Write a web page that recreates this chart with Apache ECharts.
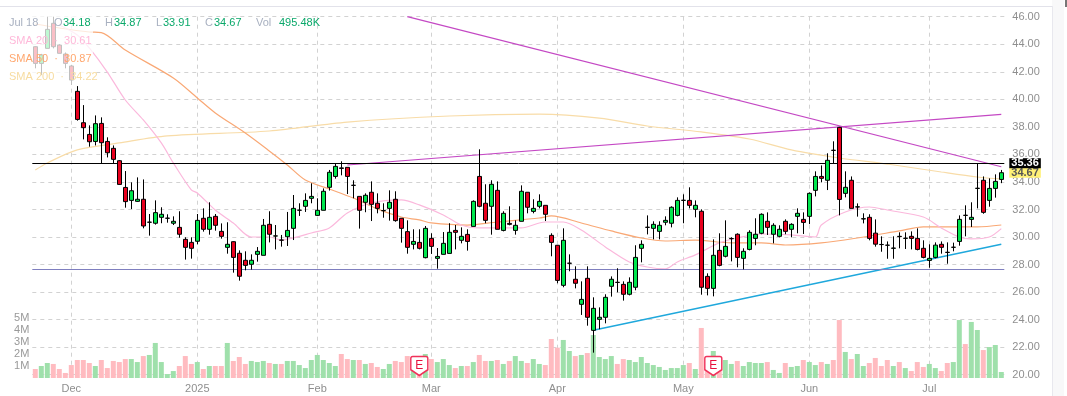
<!DOCTYPE html>
<html>
<head>
<meta charset="utf-8">
<style>
html, body { margin: 0; padding: 0; background: #fff; }
#chart { width: 1067px; height: 396px; }
</style>
<script src="https://cdn.jsdelivr.net/npm/echarts@6/dist/echarts.min.js"></script>
</head>
<body>
<div id="chart"></div>
<script>
const opens = [
  43.82,42.61,43.70,45.52,43.94,43.29,42.42,40.58,38.30,37.45,
  36.94,38.25,36.94,36.44,35.54,33.60,32.66,32.59,32.74,31.07,
  31.00,31.43,31.36,31.00,30.70,29.83,29.61,29.69,31.36,30.56,
  31.50,30.41,29.25,29.66,28.82,28.31,28.02,28.74,28.67,30.92,
  30.07,29.78,30.02,30.63,31.94,32.23,32.81,31.57,31.94,33.61,
  34.40,35.02,35.06,33.75,32.95,32.52,33.25,32.45,31.91,32.08,
  32.74,31.36,30.39,29.47,29.61,28.50,29.90,28.45,28.74,28.81,
  30.48,29.76,30.19,30.77,34.40,32.45,32.23,33.39,30.48,30.99,
  30.48,31.14,33.25,31.86,32.23,32.30,30.12,29.40,26.49,28.09,
  26.93,25.11,27.00,23.22,24.02,24.17,26.42,26.71,26.56,25.84,
  26.35,29.18,30.70,30.63,30.41,31.07,31.00,31.57,32.66,32.66,
  32.01,31.87,27.14,26.27,29.03,28.60,29.88,30.20,28.45,29.10,
  29.90,30.27,31.14,30.20,30.05,31.14,30.56,31.50,31.28,31.50,
  33.39,34.40,34.12,36.30,37.96,33.17,34.12,32.18,31.31,31.43,
  30.28,29.46,29.41,29.18,30.05,29.90,30.05,29.90,29.18,28.30,
  28.52,29.47,28.89,29.25,29.68,31.58,31.28,33.53,34.12,32.66,
  33.53,34.18
];
const closes = [
  42.61,43.22,45.08,43.82,43.34,42.61,41.40,38.54,37.94,36.92,
  38.23,36.85,36.12,35.64,33.82,32.57,33.36,32.74,30.80,31.08,
  31.77,31.65,31.37,31.14,30.20,29.25,29.18,31.21,30.56,31.43,
  30.85,30.05,29.47,28.52,27.15,27.94,28.31,28.96,30.85,30.20,
  30.08,29.77,30.48,32.08,31.95,32.66,32.95,31.94,33.32,34.70,
  35.13,34.98,34.40,33.76,31.94,33.03,32.37,32.08,31.92,32.52,
  31.19,30.63,29.25,29.68,29.18,30.63,29.32,28.59,29.54,30.34,
  30.34,30.05,29.68,32.59,32.23,31.21,33.83,30.56,31.72,30.92,
  30.85,33.32,32.16,32.08,32.59,31.65,29.61,26.85,29.76,28.10,
  26.64,25.47,24.17,24.82,24.17,25.62,26.93,26.70,25.84,26.71,
  28.52,29.47,30.71,30.92,30.85,31.21,32.16,32.66,32.67,32.30,
  32.30,26.35,26.27,28.67,27.94,29.32,29.89,28.52,28.96,30.34,
  30.20,31.65,30.70,30.85,30.56,30.41,30.92,31.72,31.06,33.17,
  34.40,34.26,35.57,36.29,32.73,33.61,32.08,32.19,31.33,29.90,
  29.48,29.45,29.40,29.20,30.03,29.91,29.90,29.10,28.52,28.45,
  29.41,29.25,28.88,29.26,31.28,31.57,31.43,33.54,31.79,33.53,
  34.04,34.67
];
const highs = [
  43.85,43.30,46.00,46.00,44.00,43.40,42.50,40.96,39.58,38.11,
  38.83,38.69,37.24,36.65,35.59,34.79,33.97,34.33,34.18,31.67,
  32.66,32.16,31.65,31.50,31.87,29.98,29.98,31.67,32.08,32.52,
  31.67,30.99,31.07,29.69,29.03,28.96,28.74,29.27,31.31,31.87,
  30.87,30.15,31.82,33.05,32.45,33.17,33.90,32.81,33.53,34.87,
  35.35,35.50,35.06,34.12,32.95,33.17,34.04,33.17,32.45,33.39,
  33.32,31.36,31.21,30.56,30.56,30.80,30.27,29.20,30.36,31.00,
  30.87,30.70,30.56,32.66,36.37,33.83,34.12,34.04,31.87,32.23,
  31.21,33.75,33.25,32.74,33.10,32.30,30.27,29.40,30.63,28.74,
  27.87,26.78,27.87,25.62,24.89,25.84,27.14,27.73,26.78,27.07,
  29.40,29.76,31.57,31.14,31.14,31.50,32.23,32.88,33.10,33.61,
  32.66,32.01,27.36,29.83,30.27,31.21,29.98,30.27,29.18,30.49,
  31.36,31.72,31.79,31.00,30.85,31.28,31.00,32.08,31.79,33.24,
  34.77,35.20,36.08,36.95,38.00,34.77,34.40,32.44,31.72,31.65,
  31.28,30.05,29.68,30.05,30.34,30.34,30.41,30.63,29.76,29.47,
  29.61,29.68,29.61,29.59,31.57,32.30,32.52,35.35,34.40,34.26,
  34.55,34.87
];
const lows = [
  42.25,41.76,43.70,43.70,43.34,42.25,41.04,38.45,37.09,36.56,
  36.65,35.35,35.78,35.35,33.80,32.13,32.03,32.55,30.63,30.10,
  30.90,31.00,31.04,30.87,29.95,28.36,28.43,29.47,30.39,30.17,
  30.46,29.88,28.79,27.41,26.83,27.58,27.63,28.21,28.67,29.61,
  29.10,29.30,29.35,29.78,31.53,31.82,32.45,31.53,31.94,33.37,
  34.24,34.48,33.12,32.81,30.61,31.80,31.16,31.72,31.40,31.19,
  31.11,29.59,28.79,29.10,29.10,28.45,28.77,27.70,28.74,28.81,
  29.10,29.54,29.01,30.77,32.16,31.00,30.17,30.56,30.41,30.85,
  30.17,31.14,31.72,31.72,32.08,31.16,28.60,26.64,26.35,27.51,
  26.27,24.34,23.56,21.60,23.30,23.73,25.67,25.98,25.38,25.76,
  26.13,28.16,30.19,29.83,29.83,30.85,30.70,31.50,31.00,32.08,
  31.43,25.81,25.76,25.69,27.87,28.52,28.23,27.80,27.65,29.03,
  29.40,30.20,30.15,29.54,29.98,30.20,29.98,30.27,30.22,30.94,
  32.95,33.97,33.41,35.35,31.57,32.88,32.08,31.48,30.99,29.76,
  29.30,28.93,28.42,28.42,29.18,29.13,29.10,29.03,28.45,27.77,
  28.45,28.79,28.06,28.96,29.37,30.05,30.73,32.08,31.69,32.20,
  32.86,33.91
];
// volumes in millions
const volumes = [
  0.75,1.00,1.25,1.17,0.75,0.42,1.08,1.50,1.50,1.25,
  1.00,1.50,0.83,1.42,1.33,1.58,1.58,1.33,1.83,1.92,
  2.92,1.33,0.33,0.58,1.00,1.83,1.17,1.33,0.75,1.00,
  1.00,1.00,2.92,1.42,1.75,1.17,1.42,1.33,1.42,1.25,
  1.17,1.17,1.42,1.42,1.08,0.83,1.50,1.92,1.50,1.25,
  1.00,2.00,1.58,1.50,1.50,1.17,1.25,0.92,0.75,1.17,
  1.42,1.33,1.83,1.30,1.50,2.00,1.58,1.33,1.58,1.08,
  0.83,1.00,1.00,1.33,1.92,1.42,1.42,1.50,1.17,1.42,
  1.83,1.42,1.25,1.58,1.17,1.08,3.25,2.53,3.17,2.25,
  1.83,1.92,2.08,3.58,1.75,1.58,1.83,1.17,1.58,1.50,
  1.33,1.75,1.25,1.08,0.92,0.67,0.83,0.83,1.08,1.25,
  0.75,4.17,1.20,2.25,1.30,1.50,1.17,1.42,1.00,1.33,
  1.25,1.25,1.33,0.67,0.42,1.25,0.92,1.00,1.50,1.33,
  1.08,1.33,1.17,1.50,4.83,2.17,1.58,2.00,1.00,1.25,
  1.67,1.00,1.50,1.00,1.33,0.83,0.58,1.33,0.92,1.17,
  0.83,0.58,1.25,1.33,4.83,2.83,4.67,4.00,2.33,2.58,
  2.75,0.50
];

const monthIndex = [6, 27, 47, 66, 87, 108, 129, 149];
const monthLabels = ['Dec', '2025', 'Feb', 'Mar', 'Apr', 'May', 'Jun', 'Jul'];
const categories = opens.map((_, i) => String(i));

// moving averages, read at [bar index, price]
const sma20 = [[4,45.40],[7,44.67],[9,43.73],[12,41.98],[15,39.95],[18,38.50],[21,36.83],[23,35.38],[26,33.42],[27,33.20],
  [30,31.96],[33,31.02],[36,30.00],[39,30.00],[41,29.78],[43,29.93],[46,30.29],[49,30.66],[52,31.75],[56,32.47],
  [61,32.69],[64,32.33],[68,31.60],[71,30.87],[74,30.66],[78,30.66],[81,30.66],[84,31.02],[85,31.09],[88,31.09],
  [91,30.51],[95,29.28],[99,28.19],[102,27.82],[105,27.68],[107,28.19],[110,28.70],[114,29.57],[117,29.93],[121,30.22],
  [126,30.15],[130,30.00],[131,30.87],[135,31.82],[139,32.18],[142,31.96],[148,31.45],[151,30.66],[154,30.00],[156,29.86],
  [159,30.00],[161,30.61]];
const sma50 = [[0,45.47],[4,45.18],[9,44.89],[11,44.85],[15,43.58],[23,41.55],[27,40.10],[30,39.01],[35,37.55],[39,36.25],
  [42,35.23],[45,34.14],[49,33.49],[53,32.83],[57,32.04],[61,31.45],[64,31.24],[66,31.02],[72,30.87],[77,31.09],
  [84,31.38],[86,31.53],[91,31.02],[96,30.44],[101,29.93],[105,29.71],[110,29.78],[116,29.57],[121,29.57],[125,29.42],
  [131,29.57],[137,29.93],[144,30.44],[148,30.73],[153,30.73],[157,30.73],[161,30.87]];
const sma200 = [[0,34.87],[2,35.38],[7,36.33],[14,36.83],[22,37.34],[39,37.70],[52,38.35],[69,38.79],[84,38.93],[94,38.64],
  [102,38.06],[111,37.63],[119,37.12],[126,36.33],[134,35.74],[142,35.30],[151,34.72],[157,34.36],[161,34.22]];

// drawn trend lines
const trendDown = [[62,46.00],[161,35.10]];
const trendUp = [[52,35.23],[161,38.91]];
const trendSupport = [[93,23.23],[161,29.47]];

const resistance = 35.36;
const support = 27.66;
const lastClose = 34.67;

const earnings = [[64,1.0],[113,1.0]];

const GREEN = '#00e64d';
const RED = '#e8001e';
const FONT = '"Liberation Sans", Arial, sans-serif';
const GRID_LINE = { color: '#d2d2d2', type: [4, 4] };

const candleData = opens.map((o, i) => [o, closes[i], lows[i], highs[i]]);
const volumeData = volumes.map((v, i) => ({
  value: v,
  itemStyle: { color: closes[i] >= opens[i] ? '#9fe0ab' : '#ffbbc0' }
}));

function lineSeries(name, data, color, width, smooth) {
  return {
    name: name,
    type: 'line',
    data: data,
    xAxisIndex: 0,
    yAxisIndex: 0,
    symbol: 'none',
    silent: true,
    smooth: smooth,
    z: 4,
    lineStyle: { color: color, width: width }
  };
}

function headerText(x, y, text, color) {
  return {
    type: 'text',
    x: x,
    y: y,
    z: 101,
    silent: true,
    style: { text: text, fill: color, font: '11px ' + FONT, textVerticalAlign: 'middle' }
  };
}

function priceBadge(value, background, color) {
  return {
    position: 'end',
    distance: 5,
    formatter: value.toFixed(2),
    backgroundColor: background,
    color: color,
    fontWeight: 'bold',
    fontFamily: FONT,
    fontSize: 11,
    lineHeight: 10,
    padding: [0, 2]
  };
}

const chart = echarts.init(document.getElementById('chart'));

const option = {
  animation: false,
  backgroundColor: '#fff',
  grid: [
    { left: 32.3, width: 972, top: 16.7, height: 358 },
    { left: 32.3, width: 972, top: 318, height: 60 }
  ],
  xAxis: [
    {
      type: 'category',
      gridIndex: 0,
      data: categories,
      axisLine: { show: false },
      axisTick: { show: false },
      axisLabel: { show: false },
      splitLine: {
        show: true,
        alignWithLabel: true,
        interval: (i) => monthIndex.includes(i),
        lineStyle: GRID_LINE
      }
    },
    {
      type: 'category',
      gridIndex: 1,
      data: categories,
      axisLine: { show: false },
      axisTick: { show: false },
      splitLine: { show: false },
      axisLabel: {
        show: true,
        margin: 5,
        interval: (i) => monthIndex.includes(i),
        formatter: (v, i) => monthLabels[monthIndex.indexOf(i)] || '',
        color: '#8f8f8f',
        fontFamily: FONT,
        fontSize: 11
      }
    }
  ],
  yAxis: [
    {
      type: 'value',
      gridIndex: 0,
      position: 'right',
      min: 20,
      max: 46,
      interval: 2,
      axisLine: { show: false },
      axisTick: { show: false },
      axisLabel: {
        margin: 8,
        formatter: (v) => v.toFixed(2),
        color: '#8f8f8f',
        fontFamily: FONT,
        fontSize: 11
      },
      splitLine: { lineStyle: GRID_LINE }
    },
    {
      type: 'value',
      gridIndex: 1,
      position: 'left',
      min: 0,
      max: 5,
      interval: 1,
      axisLine: { show: false },
      axisTick: { show: false },
      splitLine: { show: false },
      axisLabel: {
        margin: 3,
        padding: [0, 0, 4, 0],
        formatter: (v) => (v === 0 ? '' : v + 'M'),
        color: '#999',
        fontFamily: FONT,
        fontSize: 11
      }
    }
  ],
  series: [
    {
      name: 'Volume',
      type: 'bar',
      xAxisIndex: 1,
      yAxisIndex: 1,
      barWidth: 5,
      z: 1,
      data: volumeData
    },
    lineSeries('SMA 200', sma200, '#f8dca8', 1.2, 0.3),
    lineSeries('SMA 50', sma50, '#f9a875', 1.2, 0.3),
    lineSeries('SMA 20', sma20, '#fbb8dc', 1.2, 0.3),
    {
      name: 'Price',
      type: 'candlestick',
      xAxisIndex: 0,
      yAxisIndex: 0,
      barWidth: 4,
      z: 5,
      data: candleData,
      itemStyle: {
        color: GREEN,
        color0: RED,
        borderColor: '#000',
        borderColor0: '#000',
        borderWidth: 1
      },
      markLine: {
        silent: true,
        symbol: 'none',
        animation: false,
        data: [
          {
            yAxis: support,
            lineStyle: { color: '#7f7fbf', type: 'solid', width: 1 },
            label: { show: false }
          },
          {
            yAxis: lastClose,
            lineStyle: { color: 'transparent', type: 'solid', width: 1 },
            label: priceBadge(lastClose, '#fff176', '#555')
          },
          {
            yAxis: resistance,
            lineStyle: { color: '#000', type: 'solid', width: 1 },
            label: priceBadge(resistance, '#000', '#fff')
          }
        ]
      }
    },
    lineSeries('Trend down', trendDown, '#c448c4', 1.2, false),
    lineSeries('Trend up', trendUp, '#c448c4', 1.2, false),
    lineSeries('Support', trendSupport, '#1fa8dc', 1.5, false),
    {
      name: 'Earnings',
      type: 'scatter',
      xAxisIndex: 1,
      yAxisIndex: 1,
      z: 6,
      silent: true,
      data: earnings,
      symbol: 'path://M2 0H16A2 2 0 0 1 18 2V14L9 20L0 14V2A2 2 0 0 1 2 0Z',
      symbolSize: [17, 19],
      itemStyle: { color: '#fff', borderColor: '#f0325a', borderWidth: 1.5, opacity: 1 },
      label: {
        show: true,
        position: 'inside',
        formatter: 'E',
        color: '#e8103c',
        fontFamily: FONT,
        fontSize: 12
      }
    }
  ],
  graphic: [
    { type: 'rect', z: 0, silent: true, shape: { x: 1052, y: 0, width: 12, height: 396 },
      style: { fill: '#f8f8f9' } },
    { type: 'rect', z: 0, silent: true, shape: { x: 1065, y: 0, width: 2, height: 7 },
      style: { fill: '#777' } },
    { type: 'line', z: 0, silent: true, shape: { x1: 0, y1: 6.5, x2: 1052, y2: 6.5 },
      style: { stroke: '#e2e2ea', lineWidth: 1 } },
    { type: 'line', z: 0, silent: true, shape: { x1: 1052.5, y1: 6, x2: 1052.5, y2: 396 },
      style: { stroke: '#e8e8ee', lineWidth: 1 } },
    // legend sits on a see-through panel, the first bars fade under it
    { type: 'rect', z: 100, silent: true, shape: { x: 31, y: 16, width: 62, height: 69 },
      style: { fill: 'rgba(255,255,255,0.75)' } },
    headerText(9, 23, 'Jul 18', '#a8b0c0'),
    headerText(54, 23, 'O', '#a8b0c0'),
    headerText(63, 23, '34.18', '#0aa86a'),
    headerText(105, 23, 'H', '#a8b0c0'),
    headerText(114, 23, '34.87', '#0aa86a'),
    headerText(156, 23, 'L', '#a8b0c0'),
    headerText(163, 23, '33.91', '#0aa86a'),
    headerText(205, 23, 'C', '#a8b0c0'),
    headerText(214, 23, '34.67', '#0aa86a'),
    headerText(256, 23, 'Vol', '#a8b0c0'),
    headerText(279, 23, '495.48K', '#0aa86a'),
    headerText(9, 41, 'SMA 20  ·  30.61', '#ffb8d9'),
    headerText(9, 59, 'SMA 50  ·  30.87', '#ffa76e'),
    headerText(9, 77, 'SMA 200  ·  34.22', '#f7dca0')
  ]
};

chart.setOption(option);
window.addEventListener('resize', () => chart.resize());
</script>
</body>
</html>
